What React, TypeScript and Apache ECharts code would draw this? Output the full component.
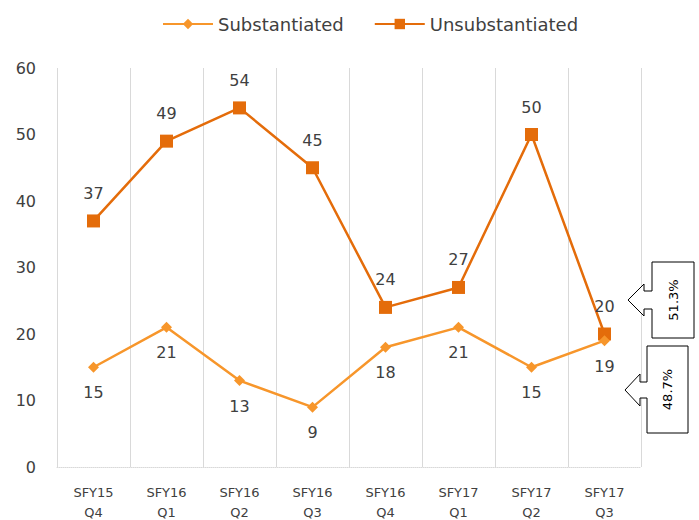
import React, { useEffect, useRef } from "react";
import * as echarts from "echarts";

const categories = ["SFY15\nQ4", "SFY16\nQ1", "SFY16\nQ2", "SFY16\nQ3", "SFY16\nQ4", "SFY17\nQ1", "SFY17\nQ2", "SFY17\nQ3"];
const substantiated = [15, 21, 13, 9, 18, 21, 15, 19];
const unsubstantiated = [37, 49, 54, 45, 24, 27, 50, 20];
const shareUnsub = "51.3%";
const shareSub = "48.7%";

const SUB_COLOR = "#F7962B";
const UNSUB_COLOR = "#E46C0A";
const FONT = "DejaVu Sans";

export default function App() {
  const ref = useRef<HTMLDivElement>(null);
  useEffect(() => {
    const chart = echarts.init(ref.current!, null, { renderer: "svg" });
    const callout = (
      left: number, top: number, right: number, bottom: number,
      baseX: number, tipX: number, tipY: number,
      headHalf: number, stemHalf: number, text: string
    ) => [
      {
        type: "polygon",
        shape: {
          points: [
            [left, top], [right, top], [right, bottom], [left, bottom],
            [left, tipY + stemHalf], [baseX, tipY + stemHalf], [baseX, tipY + headHalf],
            [tipX, tipY], [baseX, tipY - headHalf], [baseX, tipY - stemHalf], [left, tipY - stemHalf],
          ],
        },
        style: { fill: "#ffffff", stroke: "#000000", lineWidth: 1 },
        z: 100,
      },
      {
        type: "text",
        x: (left + right) / 2,
        y: (top + bottom) / 2,
        rotation: Math.PI / 2,
        style: {
          text,
          fill: "#000000",
          font: `13px ${FONT}`,
          align: "center",
          verticalAlign: "middle",
        },
        z: 101,
      },
    ];
    chart.setOption({
      animation: false,
      backgroundColor: "#ffffff",
      textStyle: { fontFamily: FONT },
      legend: {
        left: 157,
        top: 10,
        itemWidth: 50,
        itemHeight: 13,
        itemGap: 30,
        textStyle: { fontSize: 18, color: "#404040", fontFamily: FONT },
        data: ["Substantiated", "Unsubstantiated"],
      },
      grid: { left: 57, right: 58, top: 68, bottom: 53, containLabel: false, outerBoundsMode: "none" },
      xAxis: {
        type: "category",
        data: categories,
        boundaryGap: true,
        axisLine: { show: true, lineStyle: { color: "#D9D9D9", type: "dotted", width: 1 } },
        axisTick: { show: false },
        splitLine: { show: true, lineStyle: { color: "#D9D9D9", width: 1 } },
        axisLabel: {
          interval: 0,
          margin: 15,
          fontSize: 13,
          lineHeight: 20,
          color: "#404040",
          fontFamily: FONT,
        },
      },
      yAxis: {
        type: "value",
        min: 0,
        max: 60,
        interval: 10,
        axisLine: { show: false },
        axisTick: { show: false },
        splitLine: { show: false },
        axisLabel: { fontSize: 16, color: "#404040", margin: 21, fontFamily: FONT },
      },
      series: [
        {
          name: "Substantiated",
          type: "line",
          data: substantiated,
          symbol: "diamond",
          symbolSize: 11,
          color: SUB_COLOR,
          lineStyle: { width: 2.5, color: SUB_COLOR },
          itemStyle: { color: SUB_COLOR },
          label: {
            show: true,
            position: "bottom",
            distance: 12,
            fontSize: 16,
            color: "#404040",
            fontFamily: FONT,
          },
          z: 3,
        },
        {
          name: "Unsubstantiated",
          type: "line",
          data: unsubstantiated,
          symbol: "rect",
          symbolSize: 13,
          color: UNSUB_COLOR,
          lineStyle: { width: 2.5, color: UNSUB_COLOR },
          itemStyle: { color: UNSUB_COLOR },
          label: {
            show: true,
            position: "top",
            distance: 13,
            fontSize: 16,
            color: "#404040",
            fontFamily: FONT,
          },
          z: 2,
        },
      ],
      graphic: [
        ...callout(652, 262, 694, 338, 644, 628, 300, 16, 9, shareUnsub),
        ...callout(647, 346, 688, 433, 640, 625, 390, 16, 8, shareSub),
      ],
    });
    return () => chart.dispose();
  }, []);
  return <div ref={ref} style={{ width: 699, height: 520, position: "absolute", left: 0, top: 0 }} />;
}
